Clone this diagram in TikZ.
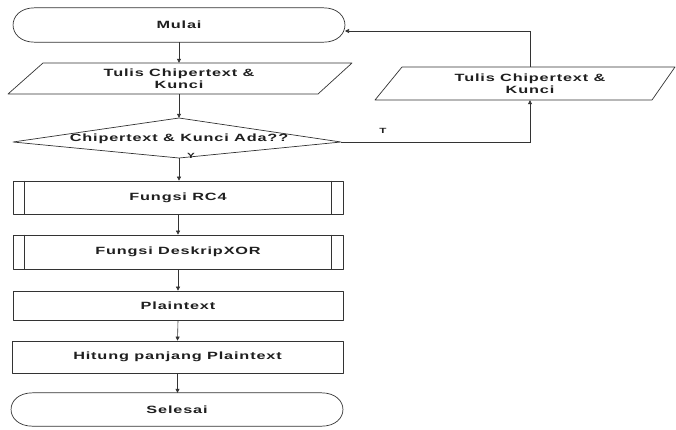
\documentclass[tikz,border=0pt]{standalone}
\usepackage{fontspec}
\newfontfamily\lblfont[FakeStretch=1.55,LetterSpace=8]{Liberation Sans}
\usetikzlibrary{arrows.meta}
\definecolor{ink}{HTML}{333333}
\definecolor{txt}{HTML}{1f1f1f}
\tikzset{
  box/.style={inner sep=0pt, align=center, text=txt,
    font=\lblfont\bfseries\fontsize{10.5}{11.5}\selectfont},
  tiny/.style={inner sep=0pt, text=txt, font=\lblfont\bfseries\fontsize{7.5}{8}\selectfont},
  shp/.style={draw=ink, line width=0.7pt, line join=round},
  arr/.style={draw=ink, line width=0.6pt, -{Triangle[length=4pt,width=4pt]}},
  lnk/.style={draw=ink, line width=0.6pt}
}
\begin{document}
\begin{tikzpicture}[x=1pt,y=-1pt]
\useasboundingbox[fill=white] (0,0) rectangle (676,429);

% Mulai (terminator)
\node[box, minimum width=332pt, minimum height=34pt] (mulai) at (179,25) {Mulai};
\draw[shp] ([xshift=22pt]mulai.north west) -- ([xshift=-22pt]mulai.north east)
  .. controls +(29,0) and +(29,0) .. ([xshift=-22pt]mulai.south east)
  -- ([xshift=22pt]mulai.south west)
  .. controls +(-29,0) and +(-29,0) .. ([xshift=22pt]mulai.north west) -- cycle;
\coordinate (mulaiR) at (345,31);

% Tulis Chipertext & Kunci (input, left)
\node[box, minimum width=310pt, minimum height=31pt] (tulis1) at (179,78.5) {Tulis Chipertext \&\\Kunci};
\draw[shp] (43,63) -- (352,63) -- (318,94) -- (8,94) -- cycle;

% Decision
\node[box, minimum width=328pt, minimum height=40pt, text depth=0pt] (cek) at (179,138) {Chipertext \& Kunci Ada??};
\draw[shp] (179,118) -- (341,142) -- (179,158) -- (13,142) -- cycle;
\coordinate (cekR) at (341,142);
\node[tiny] (ylab) at (191,156) {Y};
\node[tiny] (tlab) at (383,131) {T};

% Fungsi RC4 (predefined process)
\node[box, shp, minimum width=330pt, minimum height=33pt] (rc4) at (178,197.5) {Fungsi RC4};
\draw[shp] ([xshift=12pt]rc4.north west) -- ([xshift=12pt]rc4.south west);
\draw[shp] ([xshift=-12pt]rc4.north east) -- ([xshift=-12pt]rc4.south east);

% Fungsi DeskripXOR (predefined process)
\node[box, shp, minimum width=330pt, minimum height=34pt] (xor) at (178,252) {Fungsi DeskripXOR};
\draw[shp] ([xshift=12pt]xor.north west) -- ([xshift=12pt]xor.south west);
\draw[shp] ([xshift=-12pt]xor.north east) -- ([xshift=-12pt]xor.south east);

% Plaintext
\node[box, shp, minimum width=330pt, minimum height=29pt] (plain) at (178,305.5) {Plaintext};

% Hitung panjang Plaintext
\node[box, shp, minimum width=331pt, minimum height=32pt] (hitung) at (177.5,357) {Hitung panjang Plaintext};

% Selesai (terminator)
\node[box, minimum width=332pt, minimum height=33pt] (selesai) at (177,409.5) {Selesai};
\draw[shp] ([xshift=22pt]selesai.north west) -- ([xshift=-22pt]selesai.north east)
  .. controls +(29,0) and +(29,0) .. ([xshift=-22pt]selesai.south east)
  -- ([xshift=22pt]selesai.south west)
  .. controls +(-29,0) and +(-29,0) .. ([xshift=22pt]selesai.north west) -- cycle;

% Tulis Chipertext & Kunci (input, right)
\node[box, minimum width=260pt, minimum height=33pt] (tulis2) at (530,83.5) {Tulis Chipertext \&\\Kunci};
\draw[shp] (402,67) -- (675,67) -- (652,100) -- (375,100) -- cycle;

% Connectors
\draw[arr] (mulai.south) -- (tulis1.north);
\draw[arr] (tulis1.south) -- (cek.north);
\draw[arr] (cek.south) -- (cek.south |- rc4.north);
\draw[arr] (rc4.south) -- (xor.north);
\draw[arr] (xor.south) -- (plain.north);
\draw[arr] (plain.south) -- (hitung.north);
\draw[arr] (hitung.south) -- (hitung.south |- selesai.north);
\draw[arr] (cekR) -| (tulis2.south);
\draw[arr] (tulis2.north) |- (mulaiR);
\end{tikzpicture}
\end{document}
